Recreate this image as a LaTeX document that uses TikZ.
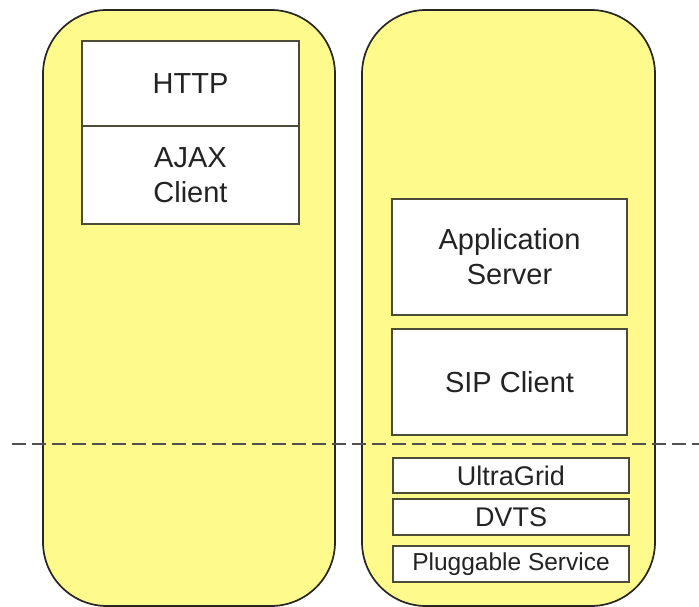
\documentclass[tikz,border=0pt]{standalone}
\usepackage{fontspec}
\setmainfont{Liberation Sans}
\definecolor{pillyellow}{RGB}{255,250,140}
\definecolor{txt}{RGB}{35,35,35}
\definecolor{boxline}{RGB}{75,75,55}
\definecolor{dashgray}{RGB}{80,80,80}
\begin{document}
\begin{tikzpicture}[x=1pt,y=-1pt,
  pill/.style={draw=black!85, line width=1.7pt, fill=pillyellow, rounded corners=64pt, inner sep=0pt},
  layer/.style={draw=boxline, line width=1.3pt, fill=white, inner sep=0pt, align=center, text=txt, font=\fontsize{29}{35}\selectfont},
  smalllayer/.style={layer, font=\fontsize{27}{30}\selectfont},
  tinylayer/.style={layer, font=\fontsize{24.5}{28}\selectfont},
  divider/.style={draw=dashgray, line width=1.3pt, dash pattern=on 14pt off 6pt}]
\useasboundingbox (0,0) rectangle (699,607);
\path[fill=white] (0,0) rectangle (699,607);
\node[pill, minimum width=292pt, minimum height=596pt] (left) at (189,308) {};
\node[pill, minimum width=293pt, minimum height=596pt] (right) at (508.5,308) {};
\node[layer, minimum width=217pt, minimum height=85pt] (http) at (190.5,83.5) {HTTP};
\node[layer, minimum width=217pt, minimum height=98pt] (ajax) at (190.5,175) {AJAX\\Client};
\node[layer, minimum width=235pt, minimum height=116pt] (app) at (509.5,257) {Application\\Server};
\node[layer, minimum width=235pt, minimum height=106pt] (sip) at (509.5,382) {SIP Client};
\coordinate (dl) at (12,444);
\coordinate (dr) at (699,444);
\draw[divider] (dl) -- (dr);
\node[smalllayer, minimum width=236pt, minimum height=35pt] (ultra) at (511,475.5) {UltraGrid};
\node[smalllayer, minimum width=236pt, minimum height=36pt] (dvts) at (511,517) {DVTS};
\node[tinylayer, minimum width=236pt, minimum height=36pt] (plug) at (511,564) {Pluggable Service};
\end{tikzpicture}
\end{document}
